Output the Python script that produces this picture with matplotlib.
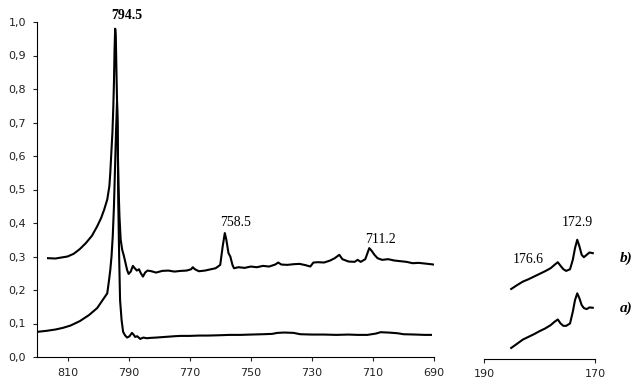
import matplotlib
matplotlib.use("Agg")
import matplotlib.pyplot as plt
from matplotlib.ticker import FuncFormatter

# left panel: spectrum b) (upper) and a) (lower)
wn_b = [816.4, 814, 812, 810, 808, 806, 804, 802, 800.3, 799, 798, 797, 796.3, 796, 795.6,
        795.3, 795, 794.8, 794.6, 794.4, 794.2, 794.0, 793.8, 793.5, 793.3, 793.0, 792.6,
        792.1, 791.5, 791.0, 790.5, 790.0, 789.3, 788.6, 788.0, 787.3, 786.6, 786.0, 785.3,
        784.6, 783.8, 782.5, 781, 779, 777, 775, 773, 771, 769.5, 769, 768.3, 767, 765, 763,
        761.5, 760, 759.2, 758.5, 758, 757.3, 756.7, 756, 755.5, 754, 752, 750, 748, 746,
        744, 742, 741, 740, 738, 736, 734, 732, 730.5, 729.5, 728, 726, 724, 722.5, 721,
        720, 718, 716, 715, 714, 712.5, 711.2, 710.5, 709.5, 708.5, 707, 705, 703, 701,
        699, 697, 695, 693, 691, 690.2]
int_b = [0.295, 0.294, 0.297, 0.300, 0.308, 0.322, 0.340, 0.362, 0.390, 0.415, 0.440, 0.470,
         0.51, 0.55, 0.62, 0.67, 0.75, 0.82, 0.92, 0.98, 0.96, 0.86, 0.77, 0.60, 0.51, 0.42,
         0.35, 0.32, 0.30, 0.28, 0.26, 0.248, 0.255, 0.272, 0.265, 0.258, 0.262, 0.250, 0.240,
         0.252, 0.258, 0.256, 0.252, 0.257, 0.258, 0.255, 0.257, 0.258, 0.262, 0.268, 0.262,
         0.256, 0.258, 0.262, 0.265, 0.275, 0.33, 0.37, 0.35, 0.31, 0.30, 0.275, 0.265, 0.268,
         0.266, 0.270, 0.268, 0.272, 0.270, 0.276, 0.282, 0.276, 0.275, 0.277, 0.278, 0.274,
         0.270, 0.282, 0.283, 0.282, 0.288, 0.295, 0.305, 0.292, 0.285, 0.284, 0.290, 0.284,
         0.292, 0.325, 0.318, 0.305, 0.295, 0.290, 0.292, 0.288, 0.286, 0.284, 0.280, 0.281,
         0.279, 0.277, 0.276]

wn_a = [820, 817, 814, 811.5, 809, 806, 803, 800.3, 798.5, 797, 796.4, 796.0, 795.6, 795.2,
        794.8, 794.4, 794.1, 793.8, 793.6, 793.4, 793.1, 792.8, 792.3, 791.8, 791.2, 790.5,
        789.7, 788.9, 788.3, 787.9, 787.2, 786.2, 785.2, 784, 783, 781, 778, 775, 773, 770,
        767, 764, 760, 757, 753.4, 750, 746, 743, 741.3, 739, 736, 733.8, 730, 726, 722, 718,
        715, 711.8, 709, 707.5, 705, 702, 700, 696, 693, 691]
int_a = [0.075, 0.078, 0.082, 0.087, 0.094, 0.107, 0.125, 0.146, 0.17, 0.19, 0.23, 0.26, 0.30,
         0.36, 0.45, 0.58, 0.68, 0.76, 0.70, 0.47, 0.30, 0.17, 0.11, 0.075, 0.065, 0.058,
         0.062, 0.072, 0.066, 0.060, 0.062, 0.054, 0.058, 0.056, 0.057, 0.058, 0.060, 0.062,
         0.063, 0.063, 0.064, 0.064, 0.065, 0.066, 0.066, 0.067, 0.068, 0.069, 0.072, 0.073,
         0.072, 0.068, 0.067, 0.067, 0.066, 0.067, 0.066, 0.066, 0.070, 0.074, 0.073, 0.071,
         0.068, 0.067, 0.066, 0.066]

# right panel (low wavenumber region)
wn_r = [185.1, 184, 183, 182, 181, 180, 179, 178, 177.3, 176.7, 176.2, 175.7, 175.2, 174.5,
        174.0, 173.6, 173.2, 172.8, 172.4, 172.0, 171.5, 171.0, 170.4]
int_rb = [0.203, 0.215, 0.225, 0.232, 0.240, 0.248, 0.256, 0.265, 0.275, 0.283, 0.272, 0.262,
          0.257, 0.262, 0.290, 0.325, 0.350, 0.330, 0.305, 0.298, 0.305, 0.312, 0.310]
int_ra = [0.027, 0.040, 0.052, 0.060, 0.068, 0.077, 0.085, 0.095, 0.105, 0.112, 0.100, 0.093,
          0.093, 0.100, 0.135, 0.170, 0.190, 0.175, 0.155, 0.146, 0.143, 0.148, 0.147]

left_ticks = [810, 790, 770, 750, 730, 710, 690]
right_ticks = [190, 170]
y_ticks = [0.0, 0.1, 0.2, 0.3, 0.4, 0.5, 0.6, 0.7, 0.8, 0.9, 1.0]

W, H = 636, 383
fig = plt.figure(figsize=(6.36, 3.83), dpi=100)
y0, y1 = 357, 22
ax = fig.add_axes([37 / W, 1 - y0 / H, (434 - 37) / W, (y0 - y1) / H])
ax2 = fig.add_axes([484 / W, 1 - y0 / H, (595 - 484) / W, (y0 - y1) / H])

lw = 1.5
ax.plot(wn_b, int_b, color='black', lw=lw)
ax.plot(wn_a, int_a, color='black', lw=lw)
ax2.plot(wn_r, int_rb, color='black', lw=lw)
ax2.plot(wn_r, int_ra, color='black', lw=lw)

ax.set_xlim(820, 690)
ax.set_ylim(0, 1.0)
ax.set_xticks(left_ticks)
ax.set_yticks(y_ticks)
ax.yaxis.set_major_formatter(FuncFormatter(lambda v, p: f"{v:.1f}".replace('.', ',')))
for s in ['top', 'right']:
    ax.spines[s].set_visible(False)
ax.tick_params(labelsize=8, length=3, width=0.8, pad=5, colors='#222222')

ax2.set_xlim(190, 170)
ax2.set_ylim(0, 1.0)
ax2.set_xticks(right_ticks)
ax2.set_yticks([])
for s in ['top', 'right', 'left']:
    ax2.spines[s].set_visible(False)
ax2.spines['bottom'].set_position(('outward', 1.5))
ax2.tick_params(labelsize=8, length=3, width=0.8, pad=4, colors='#222222')

serif = 'Liberation Serif'
ax.text(790.5, 1.018, '794.5', family=serif, fontsize=10, fontweight='bold',
        ha='center', va='center', clip_on=False)
ax.text(755.1, 0.40, '758.5', family=serif, fontsize=10, ha='center', va='center')
ax.text(707.5, 0.352, '711.2', family=serif, fontsize=10, ha='center', va='center')
ax2.text(182.1, 0.29, '176.6', family=serif, fontsize=10, ha='center', va='center')
ax2.text(173.1, 0.40, '172.9', family=serif, fontsize=10, ha='center', va='center')
ax2.text(164.4, 0.296, 'b)', family=serif, fontsize=11, fontweight='bold', style='italic',
         ha='center', va='center', clip_on=False)
ax2.text(164.4, 0.146, 'a)', family=serif, fontsize=11, fontweight='bold', style='italic',
         ha='center', va='center', clip_on=False)

fig.savefig('out.png', dpi=100)
